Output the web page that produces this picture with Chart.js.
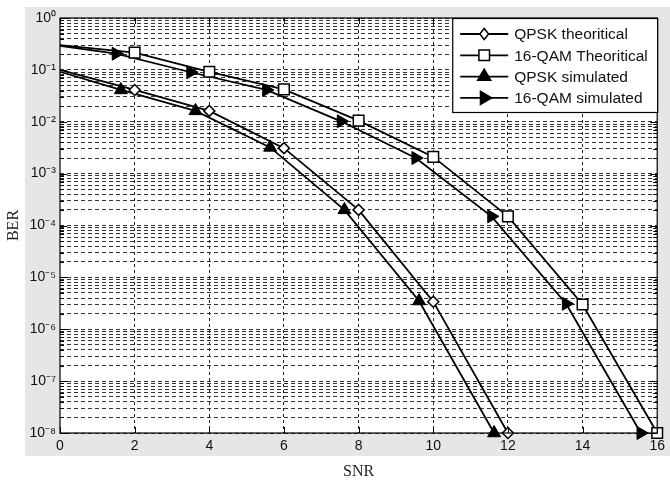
<!DOCTYPE html>
<html lang="en">
<head>
<meta charset="UTF-8">
<title>BER vs SNR</title>
<script src="https://cdn.jsdelivr.net/npm/chart.js"></script>
<style>
  html, body { margin: 0; padding: 0; background: #fff; }
  #wrap { width: 670px; height: 485px; }
</style>
</head>
<body>
<div id="wrap"><canvas id="berChart" width="670" height="485"></canvas></div>
<script>
// values
const snrQpskTheory = [0, 2, 4, 6, 8, 10, 12];
const berQpskTheory = [0.1, 0.041, 0.0162, 0.0031, 2.0e-4, 3.4e-6, 1e-8];

const snrQamTheory = [0, 2, 4, 6, 8, 10, 12, 14, 16];
const berQamTheory = [0.30, 0.215, 0.092, 0.042, 0.0105, 2.1e-3, 1.5e-4, 3.0e-6, 1e-8];

const snrQpskSim = [0, 1.63, 3.63, 5.63, 7.62, 9.62, 11.63];
const berQpskSim = [0.092, 0.041, 0.0162, 0.0032, 2.0e-4, 3.5e-6, 1e-8];

const snrQamSim = [0, 1.5, 3.5, 5.53, 7.53, 9.53, 11.56, 13.56, 15.56];
const berQamSim = [0.29, 0.205, 0.09, 0.041, 0.0102, 2.0e-3, 1.5e-4, 3.1e-6, 1e-8];

const seriesLabels = ['QPSK theoritical', '16-QAM Theoritical', 'QPSK simulated', '16-QAM simulated'];
const xTickValues = [0, 2, 4, 6, 8, 10, 12, 14, 16];
const yDecades = [-8, -7, -6, -5, -4, -3, -2, -1, 0];
const yTickLabels = ['10\u207B\u2078', '10\u207B\u2077', '10\u207B\u2076', '10\u207B\u2075', '10\u207B\u2074',
                     '10\u207B\u00B3', '10\u207B\u00B2', '10\u207B\u00B9', '10\u2070'];

function toPoints(xs, ys) {
    return xs.map((x, i) => ({ x: x, y: ys[i] }));
}

// marker on every point except the first one (line start at 0 dB)
function hideFirst(ctx) {
    return ctx.dataIndex === 0 ? 0 : ctx.dataset.markerSize;
}

// grid values: 1..9 per decade, labelled only at decades
const yGridValues = [];
yDecades.forEach(e => {
    if (e === 0) { yGridValues.push(1); return; }
    for (let m = 1; m <= 9; m++) yGridValues.push(Number((m * Math.pow(10, e)).toPrecision(3)));
});

function drawMarker(ctx, style, x, y, r, fill) {
    ctx.save();
    ctx.beginPath();
    if (style === 'diamond') {
        ctx.moveTo(x, y - r); ctx.lineTo(x + r * 0.8, y); ctx.lineTo(x, y + r); ctx.lineTo(x - r * 0.8, y);
    } else if (style === 'square') {
        const h = r * Math.SQRT1_2;
        ctx.rect(x - h, y - h, 2 * h, 2 * h);
    } else if (style === 'up') {
        ctx.moveTo(x, y - r); ctx.lineTo(x + r * 0.866, y + r / 2); ctx.lineTo(x - r * 0.866, y + r / 2);
    } else {
        ctx.moveTo(x + r, y); ctx.lineTo(x - r / 2, y + r * 0.866); ctx.lineTo(x - r / 2, y - r * 0.866);
    }
    ctx.closePath();
    ctx.fillStyle = fill;
    ctx.fill();
    ctx.lineWidth = 1.5;
    ctx.strokeStyle = '#000';
    ctx.stroke();
    ctx.restore();
}

const matlabFrame = {
    id: 'matlabFrame',
    beforeDraw(chart) {
        const { ctx, chartArea: a } = chart;
        ctx.save();
        ctx.fillStyle = '#ffffff';
        ctx.fillRect(0, 0, chart.width, chart.height);
        ctx.fillStyle = '#e6e6e6';
        ctx.fillRect(25, 7, chart.width - 25, 449);
        ctx.fillStyle = '#ffffff';
        ctx.fillRect(a.left, a.top, a.right - a.left, a.bottom - a.top);
        ctx.restore();
    },
    afterDraw(chart) {
        const { ctx, chartArea: a } = chart;
        const xs = chart.scales.x, ys = chart.scales.y;
        ctx.save();
        ctx.strokeStyle = '#000';
        ctx.lineWidth = 1.2;
        ctx.strokeRect(a.left, a.top, a.right - a.left, a.bottom - a.top);
        // inner ticks
        ctx.beginPath();
        xTickValues.forEach(v => {
            const px = Math.round(xs.getPixelForValue(v)) + 0.5;
            ctx.moveTo(px, a.bottom); ctx.lineTo(px, a.bottom - 6);
            ctx.moveTo(px, a.top); ctx.lineTo(px, a.top + 6);
        });
        yGridValues.forEach(v => {
            const py = Math.round(ys.getPixelForValue(v)) + 0.5;
            const len = Math.abs(Math.log10(v) - Math.round(Math.log10(v))) < 1e-9 ? 7 : 4;
            ctx.moveTo(a.left, py); ctx.lineTo(a.left + len, py);
            ctx.moveTo(a.right, py); ctx.lineTo(a.right - len, py);
        });
        ctx.lineWidth = 1;
        ctx.stroke();

        // legend box in the top right corner
        const bx = a.right - 205, by = a.top, bw = 205, bh = 94;
        ctx.fillStyle = '#fff';
        ctx.fillRect(bx, by, bw, bh);
        ctx.lineWidth = 1.2;
        ctx.strokeRect(bx + 0.5, by + 0.5, bw, bh);
        ctx.font = '15.5px "Liberation Sans", Arial, sans-serif';
        ctx.textBaseline = 'middle';
        ctx.fillStyle = '#111';
        chart.data.datasets.forEach((ds, i) => {
            const cy = by + 16 + i * 21.3;
            ctx.beginPath();
            ctx.moveTo(bx + 8, cy); ctx.lineTo(bx + 56, cy);
            ctx.lineWidth = 1.8;
            ctx.strokeStyle = '#000';
            ctx.stroke();
            drawMarker(ctx, ds.legendMarker, bx + 32, cy, ds.markerSize, ds.pointBackgroundColor);
            ctx.fillStyle = '#111';
            ctx.fillText(ds.label, bx + 62, cy + 1);
        });
        ctx.restore();
    }
};

const ctx = document.getElementById('berChart').getContext('2d');
new Chart(ctx, {
    type: 'line',
    data: {
        datasets: [{
            label: seriesLabels[0],
            data: toPoints(snrQpskTheory, berQpskTheory),
            borderColor: '#000',
            borderWidth: 1.8,
            pointStyle: 'rectRot',
            markerSize: 5.5,
            legendMarker: 'diamond',
            pointRadius: hideFirst,
            pointBorderWidth: 1.5,
            pointBorderColor: '#000',
            pointBackgroundColor: '#fff',
            clip: false
        }, {
            label: seriesLabels[1],
            data: toPoints(snrQamTheory, berQamTheory),
            borderColor: '#000',
            borderWidth: 1.8,
            pointStyle: 'rect',
            markerSize: 7.5,
            legendMarker: 'square',
            pointRadius: hideFirst,
            pointBorderWidth: 1.5,
            pointBorderColor: '#000',
            pointBackgroundColor: '#fff',
            clip: false
        }, {
            label: seriesLabels[2],
            data: toPoints(snrQpskSim, berQpskSim),
            borderColor: '#000',
            borderWidth: 1.8,
            pointStyle: 'triangle',
            markerSize: 7.5,
            legendMarker: 'up',
            pointRadius: hideFirst,
            pointBorderWidth: 1,
            pointBorderColor: '#000',
            pointBackgroundColor: '#000',
            clip: false
        }, {
            label: seriesLabels[3],
            data: toPoints(snrQamSim, berQamSim),
            borderColor: '#000',
            borderWidth: 1.8,
            pointStyle: 'triangle',
            pointRotation: 90,
            markerSize: 7.5,
            legendMarker: 'right',
            pointRadius: hideFirst,
            pointBorderWidth: 1,
            pointBorderColor: '#000',
            pointBackgroundColor: '#000',
            clip: false
        }]
    },
    options: {
        responsive: false,
        animation: false,
        devicePixelRatio: 1,
        layout: { padding: { top: 18, right: 8, left: 0, bottom: 0 } },
        plugins: {
            legend: { display: false },
            tooltip: { enabled: false }
        },
        scales: {
            x: {
                type: 'linear',
                min: 0,
                max: 16,
                afterBuildTicks: scale => { scale.ticks = xTickValues.map(v => ({ value: v })); },
                afterFit: scale => { scale.height = 52; },
                ticks: {
                    autoSkip: false,
                    maxRotation: 0,
                    padding: 5,
                    color: '#111',
                    font: { family: '"Liberation Sans", Arial, sans-serif', size: 14 }
                },
                grid: {
                    color: ctx => (ctx.tick && (ctx.tick.value === 0 || ctx.tick.value === 16)) ? 'rgba(0,0,0,0)' : '#222',
                    lineWidth: 1,
                    drawTicks: false
                },
                border: { display: false, dash: [3, 3] },
                title: {
                    display: true,
                    text: 'SNR',
                    color: '#222',
                    padding: 4,
                    font: { family: '"Liberation Serif", "Times New Roman", serif', size: 16 }
                }
            },
            y: {
                type: 'logarithmic',
                min: 1e-8,
                max: 1,
                afterBuildTicks: scale => { scale.ticks = yGridValues.map(v => ({ value: v })); },
                afterFit: scale => { scale.width = 60; },
                ticks: {
                    autoSkip: false,
                    padding: 4,
                    color: '#111',
                    font: { family: '"Liberation Sans", Arial, sans-serif', size: 14 },
                    callback: value => {
                        const e = Math.log10(value);
                        if (Math.abs(e - Math.round(e)) > 1e-9) return '';
                        return yTickLabels[yDecades.indexOf(Math.round(e))];
                    }
                },
                grid: {
                    color: '#333',
                    lineWidth: 1,
                    drawTicks: false
                },
                border: { display: false, dash: [4, 3] },
                title: {
                    display: true,
                    text: 'BER',
                    color: '#222',
                    padding: 4,
                    font: { family: '"Liberation Serif", "Times New Roman", serif', size: 16 }
                }
            }
        }
    },
    plugins: [matlabFrame]
});
</script>
</body>
</html>
